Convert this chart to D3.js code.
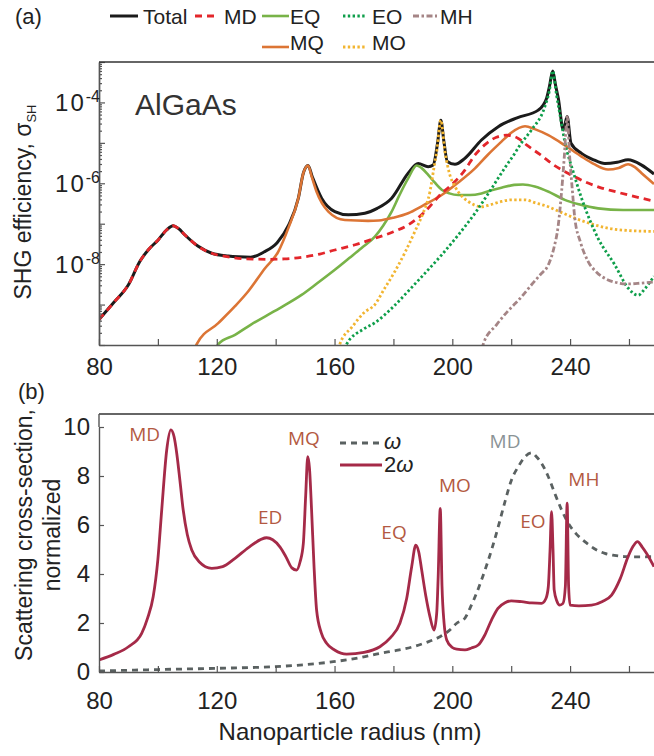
<!DOCTYPE html>
<html>
<head>
<meta charset="utf-8">
<script src="https://cdn.jsdelivr.net/npm/d3@7"></script>
<style>
  body { margin: 0; background: #fff; }
  svg { display: block; font-family: "Liberation Sans", Arial, sans-serif; }
</style>
</head>
<body>
<svg id="chart" width="654" height="756"></svg>
<script>
// ---- panel (a): SHG efficiency, stored as [radius nm, log10(sigma)] ----
const total = [[80,-9.37],[85,-8.95],[90,-8.51],[93.9,-7.93],[96.7,-7.65],[100.1,-7.40],[103,-7.15],[105.2,-7.05],[107,-7.12],[109.2,-7.28],[113.7,-7.56],[118.3,-7.73],[123.9,-7.80],[127.3,-7.82],[131.5,-7.83],[136,-7.70],[140.5,-7.47],[144.3,-7.05],[147.7,-6.37],[149.4,-5.75],[151,-5.56],[152.5,-5.85],[155.6,-6.37],[160.1,-6.70],[164.7,-6.78],[170.3,-6.74],[174.5,-6.62],[179.4,-6.37],[185,-5.75],[188.4,-5.51],[191.8,-5.59],[193.5,-5.55],[195,-5.0],[196.1,-4.44],[197.2,-5.0],[198.3,-5.46],[200.9,-5.53],[204.3,-5.38],[209.9,-4.93],[215.6,-4.60],[222,-4.38],[229.2,-4.19],[232,-3.90],[233,-3.6],[234.1,-3.22],[235,-3.55],[236,-3.90],[237.7,-4.68],[239,-4.35],[240.3,-5.01],[243.9,-5.26],[248,-5.42],[251.8,-5.51],[256,-5.48],[259.7,-5.42],[264.3,-5.55],[268.5,-5.77]];
const md = [[80,-9.37],[85,-8.95],[90,-8.51],[93.9,-7.93],[96.7,-7.65],[100.1,-7.40],[103,-7.15],[105.2,-7.05],[107,-7.12],[109.2,-7.28],[113.7,-7.56],[118.3,-7.73],[123.9,-7.82],[130,-7.87],[137.5,-7.88],[143,-7.87],[148.8,-7.83],[155,-7.75],[160.1,-7.65],[167,-7.52],[173.7,-7.36],[180,-7.20],[185,-7.03],[190,-6.75],[196.4,-6.25],[200.3,-6.0],[204,-5.7],[207.7,-5.30],[211,-5.05],[215,-4.86],[218.4,-4.81],[222.4,-4.89],[225.2,-5.05],[230,-5.3],[234.5,-5.55],[240,-5.78],[245,-5.96],[250,-6.10],[255.5,-6.21],[262,-6.33],[268.5,-6.44]];
const mq = [[112.5,-10.1],[113.2,-9.98],[120.5,-9.46],[126.2,-9.04],[130.7,-8.67],[136.4,-8.10],[140.9,-7.69],[144.3,-7.11],[147.7,-6.37],[149.4,-5.75],[151,-5.56],[152.3,-5.85],[153.9,-6.21],[157.9,-6.70],[163.5,-6.91],[171.4,-6.93],[175,-6.92],[180,-6.85],[185,-6.74],[190,-6.55],[196.4,-6.29],[202,-5.98],[207.7,-5.63],[212,-5.3],[216.7,-4.97],[220,-4.75],[224.7,-4.59],[228,-4.66],[232.6,-4.81],[238,-5.05],[243.9,-5.34],[248,-5.52],[252.9,-5.66],[256.5,-5.62],[259.7,-5.53],[262,-5.6],[264.3,-5.75],[268.5,-6.02]];
const eq = [[119.8,-10.1],[120.5,-9.98],[126.2,-9.75],[131.5,-9.5],[137.5,-9.25],[143,-9.02],[148.8,-8.76],[154,-8.48],[160.1,-8.14],[165,-7.85],[169.2,-7.60],[173.7,-7.32],[176.5,-7.05],[179.4,-6.70],[182,-6.3],[185,-5.88],[187.9,-5.56],[189.5,-5.62],[191.8,-5.79],[194,-5.98],[196.4,-6.16],[199,-6.25],[202,-6.29],[206,-6.29],[209.9,-6.25],[213,-6.18],[216.7,-6.11],[221,-6.04],[224,-6.03],[228,-6.08],[233,-6.22],[238.2,-6.41],[243,-6.52],[249.5,-6.62],[258,-6.66],[268.5,-6.66]];
const eo = [[163.7,-10.1],[164.1,-9.98],[170,-9.6],[173.7,-9.45],[180,-9.05],[185,-8.67],[190,-8.28],[196.4,-7.77],[202,-7.28],[207.7,-6.74],[213.4,-6.12],[218,-5.6],[221.3,-5.25],[223,-5.05],[226.9,-4.68],[231.4,-4.11],[233,-3.7],[234.1,-3.22],[235.4,-3.82],[236.8,-4.4],[238.2,-4.97],[241,-5.7],[243.9,-6.37],[249.5,-7.36],[255.2,-8.02],[259.7,-8.59],[263.1,-8.77],[265.5,-8.6],[268.5,-8.3]];
const mo = [[161.4,-10.1],[161.8,-9.98],[166,-9.55],[170,-9.2],[173.7,-9.0],[177,-8.6],[180.5,-8.18],[184,-7.7],[187.3,-7.19],[190,-6.75],[192.4,-6.21],[193.8,-5.6],[194.7,-5.22],[196.1,-4.44],[197.5,-5.22],[199,-5.75],[200.9,-6.08],[203,-6.3],[205.4,-6.45],[209.9,-6.58],[213,-6.53],[216.7,-6.45],[220,-6.41],[224.7,-6.41],[228,-6.48],[232.6,-6.58],[237,-6.72],[241.6,-6.86],[247,-7.0],[252.9,-7.11],[260,-7.17],[268.5,-7.19]];
const mh = [[210.2,-10.1],[210.5,-9.98],[215,-9.5],[219,-9.15],[223,-8.85],[226.9,-8.51],[230,-8.25],[232.6,-8.02],[234.5,-7.6],[236,-7.03],[237,-6.3],[238,-5.38],[239,-4.35],[239.9,-5.38],[240.8,-6.2],[241.6,-6.86],[243.5,-7.45],[246.1,-7.93],[249,-8.2],[252.9,-8.39],[256,-8.46],[259.7,-8.49],[264,-8.47],[268.5,-8.44]];

// ---- panel (b): normalized scattering cross-section ----
const sh2w = [[80,0.49],[85,0.72],[90,1.03],[94.5,1.58],[96.5,2.2],[98.4,3.07],[100,4.6],[101.3,6.61],[103,9.06],[104.4,9.88],[105.5,9.6],[106.4,8.93],[107.5,7.8],[108.6,6.61],[110,5.6],[111.5,4.98],[114,4.5],[118.3,4.23],[122,4.3],[126.2,4.64],[131,5.1],[136.9,5.48],[139,5.4],[141.5,5.1],[143.5,4.7],[145.5,4.25],[147.1,4.16],[148.3,4.5],[149.4,5.25],[150.2,7.2],[150.9,8.79],[151.5,8.3],[152.2,6.61],[153,4.4],[153.9,2.53],[155.5,1.6],[157.3,1.17],[160,0.9],[164.1,0.73],[170,0.8],[175.4,1.03],[179,1.4],[182.2,1.99],[184.5,3.0],[186.2,4.30],[187.6,5.18],[188.6,4.9],[189.6,4.16],[191,3.1],[192.4,2.26],[193.8,1.71],[194.7,2.4],[195.2,3.89],[195.9,6.68],[196.5,3.5],[197.2,2.0],[198.1,1.31],[200,1.0],[201.5,0.93],[204.3,0.90],[206.5,0.98],[208.8,1.10],[211,1.5],[213.3,2.12],[215.5,2.6],[217.9,2.83],[220,2.9],[223.5,2.87],[227,2.82],[230.3,2.80],[231.8,3.0],[232.6,3.48],[233.2,5.0],[233.7,6.54],[234.2,5.0],[234.6,3.35],[235.5,2.9],[236.5,2.73],[237.6,2.8],[238.4,3.5],[239.0,6.89],[239.5,3.5],[240.0,2.73],[243,2.7],[247.3,2.73],[251,2.88],[254.1,3.14],[257,3.8],[259.7,4.71],[261.5,5.15],[262.9,5.32],[264.5,5.1],[266,4.84],[268.5,4.30]];
const fund = [[80,0.04],[100,0.1],[120,0.15],[139.8,0.22],[150,0.3],[159.6,0.42],[168,0.57],[175.4,0.76],[181,0.88],[186.7,1.03],[191,1.2],[195.8,1.44],[199,1.7],[201.5,1.99],[204.3,2.2],[206,2.6],[208.5,3.3],[211.1,4.16],[213.5,5.05],[215.6,5.93],[218,7.0],[220.1,7.84],[222.5,8.4],[224.7,8.79],[226.9,8.95],[228.5,8.8],[230.3,8.52],[232.5,8.0],[234.8,7.29],[237,6.65],[239.4,6.07],[242,5.65],[245,5.32],[248,5.05],[251.8,4.84],[255,4.76],[258.6,4.71],[263,4.70],[268.5,4.71]];

// ticks and labels
const xTicks = [80,100,120,140,160,180,200,220,240,260];
const xTickLabels = [80,120,160,200,240];
const decades = [-10,-9,-8,-7,-6,-5,-4,-3];
const decadeLabels = [-4,-6,-8];
const yTicksB = [0,2,4,6,8,10];

// peak labels in panel (b): text, radius and value of the label baseline
const peakNames = ["MD","ED","MQ","EQ","MO","MD","EO","MH"];
const peakX = [95.5,138.1,149.6,180.2,200.9,217.9,227.4,244.7];
const peakY = [9.43,6.04,9.27,5.43,7.35,9.14,5.88,7.59];
const peakGray = [false,false,false,false,false,true,false,false];

const svg = d3.select("#chart");
const xA = d3.scaleLinear().domain([80, 268.5]).range([99, 654]);
const yA = d3.scaleLog().domain([1e-10, 1e-3]).range([345, 62]);
const yB = d3.scaleLinear().domain([0, 10]).range([672, 427]);
const axisCol = "#555";

const defs = svg.append("defs");
defs.append("clipPath").attr("id", "clipA").append("rect")
  .attr("x", 99).attr("y", 62).attr("width", 555).attr("height", 283);
defs.append("clipPath").attr("id", "clipB").append("rect")
  .attr("x", 99).attr("y", 414).attr("width", 555).attr("height", 258);

// ===== panel (a) =====
const lineA = d3.line().x(d => xA(d[0])).y(d => yA(Math.pow(10, d[1]))).curve(d3.curveMonotoneX);

const seriesA = [
  { data: total, color: "#1b1b1b", w: 3, dash: null },
  { data: eq, color: "#78b348", w: 2.6, dash: null },
  { data: mq, color: "#dc7535", w: 2.6, dash: null },
  { data: md, color: "#e3262b", w: 2.8, dash: "7,5" },
  { data: mo, color: "#f2b531", w: 2.8, dash: "2.4,2.4" },
  { data: eo, color: "#0e9e4a", w: 2.8, dash: "2.4,2.4" },
  { data: mh, color: "#a58586", w: 2.8, dash: "6,2.5,2.5,2.5" }
];

const gA = svg.append("g").attr("clip-path", "url(#clipA)");
gA.selectAll("path").data(seriesA).enter().append("path")
  .attr("d", s => lineA(s.data))
  .attr("fill", "none")
  .attr("stroke", s => s.color)
  .attr("stroke-width", s => s.w)
  .attr("stroke-dasharray", s => s.dash)
  .attr("stroke-linejoin", "round");

// x axis (a)
svg.append("g").attr("transform", "translate(0,345)")
  .call(d3.axisBottom(xA).tickValues(xTicks).tickSizeInner(-6).tickSizeOuter(0).tickPadding(13)
    .tickFormat(d => xTickLabels.includes(d) ? d : ""));
// y axis (a), log with minor ticks
const minor = [];
decades.slice(0, -1).forEach(e => { for (let k = 2; k <= 9; k++) minor.push(k * Math.pow(10, e)); });
svg.append("g").attr("transform", "translate(99,0)")
  .call(d3.axisLeft(yA).tickValues(minor).tickSizeInner(-3).tickSizeOuter(0).tickFormat(""));
svg.append("g").attr("transform", "translate(99,0)")
  .call(d3.axisLeft(yA).tickValues(decades.map(e => Math.pow(10, e))).tickSizeInner(-6).tickSizeOuter(0).tickFormat(""));
svg.append("line").attr("x1", 99).attr("x2", 654).attr("y1", 62).attr("y2", 62)
  .attr("stroke", "#333").attr("stroke-width", 1.4);

const ylabA = svg.append("g");
decadeLabels.forEach(e => {
  const t = ylabA.append("text").attr("x", 100).attr("y", yA(Math.pow(10, e)) + 9)
    .attr("text-anchor", "end").attr("fill", "#222").attr("font-size", 24);
  t.append("tspan").attr("letter-spacing", 2).text("10");
  t.append("tspan").attr("dy", -9).attr("font-size", 16).text("-" + (-e));
});

svg.append("text").attr("x", 135).attr("y", 115).attr("font-size", 30).attr("fill", "#333").text("AlGaAs");

const ytA = svg.append("text").attr("transform", "translate(31,202) rotate(-90)")
  .attr("text-anchor", "middle").attr("font-size", 23).attr("fill", "#222");
ytA.append("tspan").text("SHG efficiency, σ");
ytA.append("tspan").attr("dy", 5).attr("font-size", 13).text("SH");

// legend (a)
const legNames = ["Total","MD","EQ","EO","MH","MQ","MO"];
const legX = [110,195,262,343,413,262,343];
const legRow = [0,0,0,0,0,1,1];
const legStyle = [seriesA[0], seriesA[3], seriesA[1], seriesA[5], seriesA[6], seriesA[2], seriesA[4]];
const legLineW = [28,22,27,22,24,27,22];
const legGap = [5,7,1,7,3,1,7];
const legY = [16, 47];
const legTextY = [24, 50];
legNames.forEach((n, i) => {
  const y = legY[legRow[i]];
  svg.append("line").attr("x1", legX[i]).attr("x2", legX[i] + legLineW[i]).attr("y1", y).attr("y2", y)
    .attr("stroke", legStyle[i].color).attr("stroke-width", legStyle[i].w)
    .attr("stroke-dasharray", legStyle[i].dash);
  svg.append("text").attr("x", legX[i] + legLineW[i] + legGap[i]).attr("y", legTextY[legRow[i]])
    .attr("font-size", 21).attr("fill", "#222").text(n);
});

svg.append("text").attr("x", 15).attr("y", 24).attr("font-size", 22).attr("fill", "#222").text("(a)");
svg.append("text").attr("x", 18).attr("y", 399).attr("font-size", 22).attr("fill", "#222").text("(b)");

// ===== panel (b) =====
const lineB = d3.line().x(d => xA(d[0])).y(d => yB(d[1])).curve(d3.curveMonotoneX);
const gB = svg.append("g").attr("clip-path", "url(#clipB)");
gB.append("path").attr("d", lineB(fund)).attr("fill", "none")
  .attr("stroke", "#5a6161").attr("stroke-width", 2.8).attr("stroke-dasharray", "6,5");
gB.append("path").attr("d", lineB(sh2w)).attr("fill", "none")
  .attr("stroke", "#a52a48").attr("stroke-width", 2.8).attr("stroke-linejoin", "round");

svg.append("g").attr("transform", "translate(0,672)")
  .call(d3.axisBottom(xA).tickValues(xTicks).tickSizeInner(-6).tickSizeOuter(0).tickPadding(20)
    .tickFormat(d => xTickLabels.includes(d) ? d : ""));
svg.append("g").attr("transform", "translate(99,0)")
  .call(d3.axisLeft(yB).tickValues(yTicksB).tickSizeInner(-5).tickSizeOuter(0).tickPadding(9));
svg.append("line").attr("x1", 99).attr("x2", 654).attr("y1", 414).attr("y2", 414)
  .attr("stroke", "#333").attr("stroke-width", 1.4);
svg.append("line").attr("x1", 99).attr("x2", 99).attr("y1", 414).attr("y2", 427)
  .attr("stroke", axisCol).attr("stroke-width", 1.4);

svg.selectAll(".domain").attr("stroke", axisCol).attr("stroke-width", 1.4);
svg.selectAll(".tick line").attr("stroke", axisCol).attr("stroke-width", 1.2);
svg.selectAll(".tick text").attr("font-size", 24).attr("fill", "#222")
  .attr("font-family", "'Liberation Sans', Arial, sans-serif");

// peak labels
peakNames.forEach((n, i) => {
  svg.append("text").attr("x", xA(peakX[i])).attr("y", yB(peakY[i]))
    .attr("text-anchor", "middle").attr("font-family", "'Open Sans', 'Noto Sans', sans-serif")
    .attr("font-size", 19).attr("fill", peakGray[i] ? "#8a9396" : "#b35942").text(n);
});

// legend (b)
svg.append("line").attr("x1", 340).attr("x2", 382).attr("y1", 443).attr("y2", 443)
  .attr("stroke", "#5a6161").attr("stroke-width", 2.8).attr("stroke-dasharray", "6,5");
svg.append("line").attr("x1", 340).attr("x2", 382).attr("y1", 465).attr("y2", 465)
  .attr("stroke", "#a52a48").attr("stroke-width", 2.8);
svg.append("text").attr("x", 384).attr("y", 449).attr("font-size", 22).attr("font-style", "italic")
  .attr("fill", "#222").text("ω");
const l2 = svg.append("text").attr("x", 384).attr("y", 472).attr("font-size", 22).attr("fill", "#222");
l2.append("tspan").text("2");
l2.append("tspan").attr("font-style", "italic").text("ω");

const ytB = svg.append("text").attr("transform", "translate(0,535) rotate(-90)")
  .attr("text-anchor", "middle").attr("font-size", 23).attr("fill", "#222");
ytB.append("tspan").attr("x", 0).attr("y", 32).text("Scattering cross-section,");
ytB.append("tspan").attr("x", 0).attr("y", 60).text("normalized");

svg.append("text").attr("x", 350).attr("y", 740).attr("text-anchor", "middle")
  .attr("font-size", 24).attr("fill", "#222").text("Nanoparticle radius (nm)");
</script>
</body>
</html>
